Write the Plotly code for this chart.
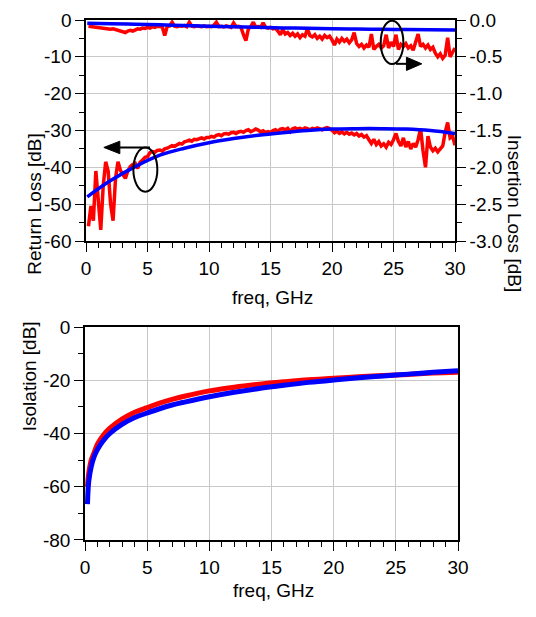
import numpy as np
import plotly.graph_objects as go

# ---------------- DATA ----------------
# measured sweep, 0.2 GHz steps
freq_meas = np.round(np.arange(1, 151) * 0.2, 1)

return_loss_meas = [
    -56.0, -50.5, -54.5, -41.0, -49.0, -57.0, -45.0, -38.5, -41.0, -50.0,
    -54.5, -43.0, -38.5, -40.8, -42.0, -43.0, -41.0, -39.8, -39.2, -38.9,
    -40.3, -38.6, -38.0, -37.3, -37.1, -36.0, -35.7, -35.9, -35.4, -35.3,
    -35.6, -35.0, -34.8, -34.5, -34.1, -34.3, -33.8, -33.5, -33.7, -33.1,
    -32.9, -32.6, -32.9, -32.4, -32.5, -32.2, -32.0, -32.3, -31.9, -31.9,
    -31.6, -31.8, -31.3, -31.1, -31.4, -30.9, -30.8, -31.0, -30.6, -30.5,
    -30.8, -30.4, -30.2, -30.5, -30.0, -29.8, -30.3, -30.0, -29.6, -29.9,
    -30.4, -30.1, -30.6, -30.3, -30.5, -30.0, -29.8, -30.2, -29.6, -29.5,
    -29.8, -29.4, -30.3, -29.5, -29.3, -29.6, -29.4, -29.7, -29.3, -29.5,
    -29.8, -29.4, -29.6, -29.3, -29.5, -29.8, -29.4, -29.2, -29.5, -29.9,
    -30.6, -30.2, -30.8, -30.4, -30.9, -30.5, -31.0, -30.7, -31.2, -30.8,
    -31.5, -31.1, -31.8, -31.4, -32.5, -33.5, -32.4, -33.8, -33.0, -34.2,
    -33.6, -34.5, -33.2, -33.8, -32.5, -30.8, -33.0, -34.2, -32.0, -34.5,
    -33.0, -35.0, -33.5, -34.5, -32.5, -29.5, -35.5, -40.0, -31.5, -34.5,
    -35.5, -34.8, -35.8, -35.0, -34.2, -30.5, -27.8, -32.0, -31.5, -34.0,
]

insertion_loss_meas = [
    -0.085, -0.09, -0.095, -0.10, -0.105, -0.11, -0.115, -0.12, -0.115, -0.125,
    -0.12, -0.13, -0.14, -0.15, -0.16, -0.17, -0.15, -0.14, -0.15, -0.13,
    -0.12, -0.125, -0.11, -0.115, -0.10, -0.11, -0.09, -0.10, -0.085, -0.09,
    -0.095, -0.21, -0.09, -0.08, -0.03, -0.085, -0.09, -0.08, -0.085, -0.075,
    -0.09, -0.03, -0.085, -0.09, -0.08, -0.085, -0.09, -0.08, -0.09, -0.085,
    -0.09, -0.07, -0.03, -0.09, -0.085, -0.095, -0.08, -0.09, -0.10, -0.04,
    -0.09, -0.085, -0.10, -0.20, -0.28, -0.12, -0.09, -0.03, -0.095, -0.09,
    -0.10, -0.04, -0.10, -0.11, -0.10, -0.12, -0.11, -0.15, -0.20, -0.13,
    -0.19, -0.17, -0.21, -0.18, -0.22, -0.19, -0.24, -0.20, -0.22, -0.12,
    -0.21, -0.23, -0.20, -0.25, -0.22, -0.26, -0.21, -0.24, -0.22, -0.27,
    -0.34, -0.26, -0.30, -0.25, -0.29, -0.26, -0.31, -0.27, -0.17, -0.32,
    -0.36, -0.33, -0.38, -0.34, -0.37, -0.19, -0.40, -0.36, -0.33, -0.38,
    -0.35, -0.20, -0.38, -0.30, -0.36, -0.20, -0.40, -0.33, -0.36, -0.32,
    -0.38, -0.35, -0.41, -0.30, -0.19, -0.36, -0.33, -0.38, -0.34, -0.40,
    -0.37, -0.45, -0.50, -0.46, -0.52, -0.48, -0.24, -0.50, -0.45, -0.38,
]

# simulated (smooth) curves
freq_sim = [0.1, 2, 4, 6, 8, 10, 12, 14, 16, 18, 20, 22, 24, 26, 28, 30]
return_loss_sim = [-48.0, -43.6, -39.8, -36.7, -34.8, -33.3, -32.2, -31.3,
                   -30.6, -30.0, -29.6, -29.5, -29.5, -29.6, -30.0, -30.8]
insertion_loss_sim = [-0.045, -0.05, -0.057, -0.066, -0.076, -0.085, -0.093, -0.10,
                      -0.107, -0.113, -0.118, -0.122, -0.126, -0.13, -0.134, -0.137]

freq_iso = [0.2, 0.3, 0.5, 0.75, 1, 1.5, 2, 3, 4, 5, 6, 7, 8, 10, 12,
            14, 16, 18, 20, 22, 24, 26, 28, 30]
isolation_meas = [-60.0, -55.0, -50.0, -47.0, -44.0, -40.5, -38.0, -34.5, -32.0,
                  -30.3, -28.6, -27.2, -26.0, -24.0, -22.6, -21.5, -20.6, -19.8,
                  -19.2, -18.7, -18.2, -17.8, -17.3, -17.0]
isolation_sim = [-66.5, -58.0, -52.5, -48.5, -46.0, -42.5, -40.0, -36.5, -34.0,
                 -32.3, -30.7, -29.3, -28.2, -26.2, -24.5, -23.1, -21.9, -20.8,
                 -19.9, -19.1, -18.4, -17.7, -17.0, -16.4]

# tick labels
x_ticks = [0, 5, 10, 15, 20, 25, 30]
rl_ticks = [0, -10, -20, -30, -40, -50, -60]
il_ticks = [0.0, -0.5, -1.0, -1.5, -2.0, -2.5, -3.0]
iso_ticks = [0, -20, -40, -60, -80]

RED = "rgb(255,0,0)"
BLUE = "rgb(0,0,255)"
FONT = "Liberation Sans, Arial, sans-serif"

fig = go.Figure()

# ---------------- TOP: return / insertion loss ----------------
fig.add_trace(go.Scatter(x=freq_meas, y=insertion_loss_meas, yaxis="y2", xaxis="x",
                         mode="lines", line=dict(color=RED, width=3.5)))
fig.add_trace(go.Scatter(x=freq_meas, y=return_loss_meas, xaxis="x", yaxis="y",
                         mode="lines", line=dict(color=RED, width=3.5)))
fig.add_trace(go.Scatter(x=freq_sim, y=insertion_loss_sim, yaxis="y2", xaxis="x",
                         mode="lines", line=dict(color=BLUE, width=3.5, shape="spline")))
fig.add_trace(go.Scatter(x=freq_sim, y=return_loss_sim, xaxis="x", yaxis="y",
                         mode="lines", line=dict(color=BLUE, width=3.5, shape="spline")))

# ---------------- BOTTOM: isolation ----------------
fig.add_trace(go.Scatter(x=freq_iso, y=isolation_meas, xaxis="x2", yaxis="y3",
                         mode="lines", line=dict(color=RED, width=5, shape="spline")))
fig.add_trace(go.Scatter(x=freq_iso, y=isolation_sim, xaxis="x2", yaxis="y3",
                         mode="lines", line=dict(color=BLUE, width=5, shape="spline")))

axis_common = dict(
    automargin=False,
    showline=True, linecolor="black", linewidth=1.5,
    showgrid=True, gridcolor="#c8c8c8", gridwidth=1,
    zeroline=False, ticks="outside", ticklen=9, tickwidth=1.2, tickcolor="black",
    tickfont=dict(size=19, color="black", family=FONT),
)
xa = dict(axis_common, range=[0, 30], tickvals=x_ticks, ticktext=[str(v) for v in x_ticks],
          minor=dict(dtick=1, ticks="outside", ticklen=5, tickcolor="black", showgrid=False),
          mirror=True)

# the page body adds an 8px margin, so the figure is sized to fit inside it
fig.update_layout(
    template="none",
    width=520, height=601,
    margin=dict(l=77, r=70, t=12, b=69),
    paper_bgcolor="white", plot_bgcolor="white",
    showlegend=False,
    font=dict(family=FONT, size=19, color="black"),
    xaxis=dict(xa, domain=[0.0027, 0.992], anchor="y"),
    yaxis=dict(axis_common, domain=[0.575, 1.0], anchor="x", range=[-60, 0],
               tickvals=rl_ticks, ticktext=[str(v) for v in rl_ticks],
               minor=dict(dtick=5, ticks="outside", ticklen=5, tickcolor="black", showgrid=False)),
    yaxis2=dict(axis_common, overlaying="y", side="right", anchor="x", range=[-3, 0],
                showgrid=False,
                tickvals=il_ticks, ticktext=["%.1f" % v for v in il_ticks],
                minor=dict(dtick=0.25, ticks="outside", ticklen=5, tickcolor="black")),
    xaxis2=dict(xa, domain=[0, 1], anchor="y3"),
    yaxis3=dict(axis_common, domain=[0, 0.4096], anchor="x2", range=[-80, 0], mirror=True,
                tickvals=iso_ticks, ticktext=[str(v) for v in iso_ticks],
                minor=dict(dtick=10, ticks="outside", ticklen=5, tickcolor="black", showgrid=False)),
)

# ellipses and arrows marking which curve belongs to which axis
ink = dict(color="black", width=2)
fig.add_shape(type="circle", xref="x", yref="y", x0=3.85, x1=5.8, y0=-46.6, y1=-34.6, line=ink)
fig.add_shape(type="line", xref="x", yref="y", x0=2.6, x1=5.2, y0=-34.6, y1=-34.6, line=ink)
fig.add_shape(type="path", xref="x", yref="y", path="M 1.45,-34.6 L 2.75,-32.9 L 2.75,-36.3 Z",
              fillcolor="black", line=dict(color="black", width=1))
fig.add_shape(type="circle", xref="x", yref="y", x0=23.96, x1=25.8, y0=-11.95, y1=-0.2, line=ink)
fig.add_shape(type="line", xref="x", yref="y", x0=25.2, x1=26.2, y0=-11.9, y1=-11.9, line=ink)
fig.add_shape(type="path", xref="x", yref="y", path="M 27.3,-11.9 L 26.05,-10.1 L 26.05,-13.7 Z",
              fillcolor="black", line=dict(color="black", width=1))

# axis titles
title_font = dict(size=19, color="black", family=FONT)
fig.add_annotation(text="Return Loss [dB]", xref="paper", yref="paper", x=-0.169, y=0.788,
                   textangle=-90, showarrow=False, font=title_font)
fig.add_annotation(text="Insertion Loss [dB]", xref="paper", yref="paper", x=1.185, y=0.783,
                   textangle=90, showarrow=False, font=title_font)
fig.add_annotation(text="freq, GHz", xref="paper", yref="paper", x=0.503, y=0.467,
                   showarrow=False, font=title_font)
fig.add_annotation(text="Isolation [dB]", xref="paper", yref="paper", x=-0.18, y=0.206,
                   textangle=-90, showarrow=False, font=title_font)
fig.add_annotation(text="freq, GHz", xref="paper", yref="paper", x=0.505, y=-0.121,
                   showarrow=False, font=title_font)

fig.write_html("out.html")
